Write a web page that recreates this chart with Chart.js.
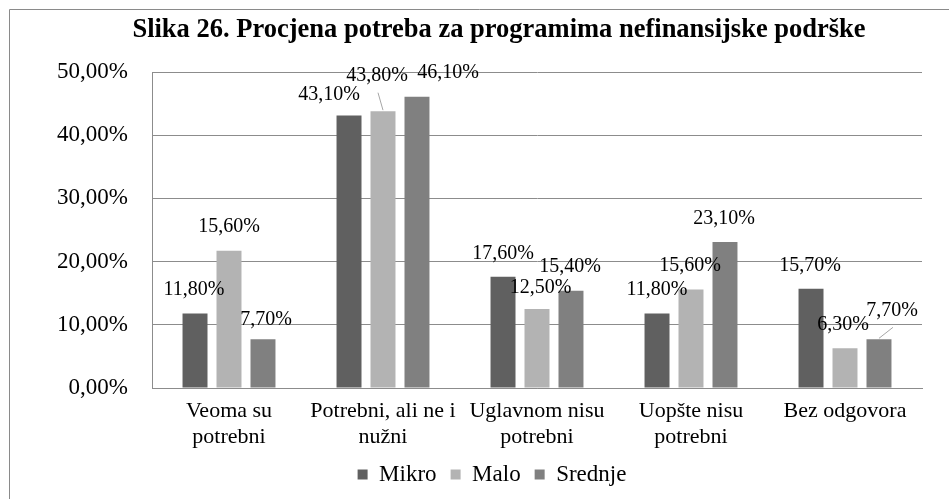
<!DOCTYPE html>
<html>
<head>
<meta charset="utf-8">
<script src="https://cdn.jsdelivr.net/npm/chart.js@4/dist/chart.umd.min.js"></script>
<style>
  html, body { margin: 0; padding: 0; background: #fff; }
  #wrap { width: 949px; height: 499px; }
</style>
</head>
<body>
<div id="wrap"><canvas id="c"></canvas></div>
<script>
// podaci sa slike
const categories = [
    ['Veoma su', 'potrebni'],
    ['Potrebni, ali ne i', 'nužni'],
    ['Uglavnom nisu', 'potrebni'],
    ['Uopšte nisu', 'potrebni'],
    'Bez odgovora'
];
const seriesNames = ['Mikro', 'Malo', 'Srednje'];
const mikro = [11.8, 43.1, 17.6, 11.8, 15.7];
const malo = [21.7, 43.8, 12.5, 15.6, 6.3];   // prvi stubac nacrtan je viši nego što kaže oznaka
const srednje = [7.7, 46.1, 15.4, 23.1, 7.7];
const mikroLabels = ['11,80%', '43,10%', '17,60%', '11,80%', '15,70%'];
const maloLabels = ['15,60%', '43,80%', '12,50%', '15,60%', '6,30%'];
const srednjeLabels = ['7,70%', '46,10%', '15,40%', '23,10%', '7,70%'];
const yTicks = [0, 10, 20, 30, 40, 50];

// pomjeranje oznaka (px) kao na originalu
const labelNudge = [
    [[-1, 0], [-20, 2.5], [0, 0], [0, 0], [-1, 0]],
    [[0, -1], [-6, -11.5], [3.5, 2.5], [-1, 0], [-2, 0]],
    [[3, 3.5], [31, 0], [-1, 0], [-1, 0], [13, -5]]
];
const leaders = [[1, 1], [2, 4]]; // [serija, kategorija]

const FONT = "'Liberation Serif', 'Times New Roman', serif";
const GRID = '#8c8c8c';

// okvir grafikona + naslov i legenda malo pomjereni kao u originalu
const framePlugin = {
    id: 'frame',
    afterLayout(chart) {
        chart.titleBlock.left += 28;
        chart.titleBlock.right += 28;
        chart.legend.left += 42;
        chart.legend.top -= 3;
        chart.legend.bottom -= 3;
    },
    beforeDraw(chart) {
        const ctx = chart.ctx;
        ctx.save();
        ctx.strokeStyle = '#8a8a8a';
        ctx.lineWidth = 1;
        ctx.beginPath();
        ctx.moveTo(9.5, chart.height + 5);
        ctx.lineTo(9.5, 9.5);
        ctx.lineTo(chart.width + 5, 9.5);
        ctx.stroke();
        ctx.restore();
    }
};

// oznake vrijednosti iznad stubaca
const valueLabels = {
    id: 'valueLabels',
    afterDatasetsDraw(chart) {
        const ctx = chart.ctx;
        const texts = [mikroLabels, maloLabels, srednjeLabels];
        ctx.save();
        ctx.font = '20px ' + FONT;
        ctx.fillStyle = '#000';
        ctx.textAlign = 'center';
        ctx.textBaseline = 'middle';
        chart.data.datasets.forEach((ds, di) => {
            const meta = chart.getDatasetMeta(di);
            meta.data.forEach((bar, i) => {
                const lx = bar.x + labelNudge[di][i][0];
                const ly = bar.y - 23.5 + labelNudge[di][i][1];
                const isLeader = leaders.some(l => l[0] === di && l[1] === i);
                if (isLeader) {
                    ctx.strokeStyle = '#a6a6a6';
                    ctx.lineWidth = 1;
                    ctx.beginPath();
                    ctx.moveTo(lx + 1, ly + 16.5);
                    ctx.lineTo(bar.x, bar.y - 1);
                    ctx.stroke();
                }
                ctx.fillText(texts[di][i], lx, ly);
            });
        });
        ctx.restore();
    }
};

new Chart(document.getElementById('c'), {
    type: 'bar',
    data: {
        labels: categories,
        datasets: [
            { label: seriesNames[0], data: mikro, backgroundColor: '#606060' },
            { label: seriesNames[1], data: malo, backgroundColor: '#b3b3b3' },
            { label: seriesNames[2], data: srednje, backgroundColor: '#808080' }
        ]
    },
    options: {
        responsive: true,
        maintainAspectRatio: false,
        animation: false,
        categoryPercentage: 0.662,
        barPercentage: 0.735,
        layout: { padding: { top: 14, left: 20, right: 27, bottom: 0 } },
        plugins: {
            title: {
                display: true,
                text: 'Slika 26. Procjena potreba za programima nefinansijske podrške',
                color: '#000',
                font: { family: FONT, size: 26.5, weight: 'bold' },
                padding: { top: 0, bottom: 26.2 }
            },
            legend: {
                position: 'bottom',
                labels: {
                    color: '#000',
                    font: { family: FONT, size: 23 },
                    boxWidth: 10,
                    boxHeight: 10,
                    padding: 14
                }
            },
            tooltip: { enabled: false }
        },
        scales: {
            x: {
                afterFit(axis) {
                    axis.height = 64;
                },
                grid: { display: false, drawTicks: false },
                border: { color: GRID },
                ticks: {
                    color: '#000',
                    font: { family: FONT, size: 22, lineHeight: 1.15 },
                    padding: 11,
                    maxRotation: 0,
                    autoSkip: false
                }
            },
            y: {
                min: 0,
                max: 50,
                afterBuildTicks(axis) {
                    axis.ticks = yTicks.map(v => ({ value: v }));
                },
                afterFit(axis) {
                    axis.width = 132;
                },
                grid: { color: GRID, drawTicks: false },
                border: { color: GRID },
                ticks: {
                    color: '#000',
                    font: { family: FONT, size: 23 },
                    padding: 24,
                    callback: v => v.toFixed(2).replace('.', ',') + '%'
                }
            }
        }
    },
    plugins: [framePlugin, valueLabels]
});
</script>
</body>
</html>
